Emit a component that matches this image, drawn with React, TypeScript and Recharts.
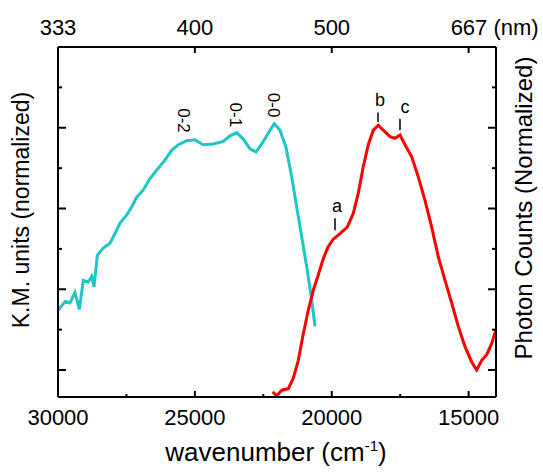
import React from "react";
import {
  LineChart,
  Line,
  XAxis,
  YAxis,
  ReferenceDot,
  ReferenceLine,
} from "recharts";

// diffuse reflectance (K.M.) spectrum, wavenumber in cm-1
const kmWavenumber = [
  29990, 29744, 29562, 29379, 29222, 29076, 28893, 28769, 28685, 28564, 28345, 28100,
  27918, 27735, 27490, 27308, 27125, 26884, 26639, 26336, 26091, 25847, 25605, 25299,
  24995, 24692, 24327, 23962, 23717, 23472, 23231, 22986, 22767, 22500, 22256, 22099,
  21891, 21672, 21463, 21280, 21098, 20915, 20732, 20612,
];
const kmValue = [
  0.74, 0.85, 0.83, 0.96, 0.75, 1.11, 1.09, 1.16, 1.03, 1.42, 1.51, 1.57,
  1.69, 1.82, 1.92, 2.02, 2.14, 2.23, 2.37, 2.5, 2.6, 2.72, 2.79, 2.84,
  2.85, 2.79, 2.8, 2.83, 2.9, 2.94, 2.86, 2.74, 2.7, 2.83, 2.97, 3.05,
  2.97, 2.76, 2.39, 2.02, 1.65, 1.28, 0.87, 0.54,
];

// emission spectrum
const emWavenumber = [
  22157, 22011, 21828, 21587, 21405, 21222, 21039, 20857, 20674, 20491, 20309, 20126,
  19943, 19699, 19432, 19213, 19030, 18847, 18665, 18482, 18299, 18117, 17872, 17689,
  17507, 17324, 17079, 16838, 16594, 16349, 16107, 15863, 15618, 15377, 15132, 14888,
  14705, 14522, 14339, 14157, 14000,
];
const emValue = [
  -0.27, -0.32, -0.25, -0.23, -0.1, 0.12, 0.45, 0.74, 0.99, 1.18, 1.38, 1.53,
  1.62, 1.69, 1.77, 1.94, 2.19, 2.52, 2.79, 2.97, 3.03, 2.97, 2.89, 2.87,
  2.91, 2.79, 2.64, 2.39, 2.1, 1.77, 1.4, 1.11, 0.83, 0.54, 0.29, 0.1,
  0.0, 0.12, 0.19, 0.33, 0.5,
];

const bottomTicks = [30000, 27500, 25000, 22500, 20000, 17500, 15000];
const topTicks = [30000, 25000, 20000, 15000];
const topTickLabels = ["333", "400", "500", "667 (nm)"];
const yTicks = [0, 0.5, 1, 1.5, 2, 2.5, 3, 3.5, 4];

// vibronic labels on the K.M. curve
const vibronicLabels = ["0-2", "0-1", "0-0"];
const vibronicX = [25400, 23500, 22110];
const vibronicY = [3.09, 3.16, 3.28];

// emission feature labels
const featureLabels = ["a", "b", "c"];
const featureX = [19881, 18310, 17507];
const featureTop = [1.88, 3.19, 3.11];
const featureBottom = [1.73, 3.07, 2.97];

const kmData = kmWavenumber.map((w, i) => ({ w, v: kmValue[i] }));
const emData = emWavenumber.map((w, i) => ({ w, v: emValue[i] }));

const FONT = "Liberation Sans, Arial, sans-serif";

const BottomTick = (props: any) => {
  const { x, y, payload } = props;
  const major = payload.value % 5000 === 0;
  return (
    <g>
      <line x1={x} x2={x} y1={y} y2={y - (major ? 6 : 3)} stroke="#000" strokeWidth={2} />
      {major && (
        <text x={x} y={y + 28} textAnchor="middle" fontSize={22} fontFamily={FONT} fill="#000">
          {payload.value}
        </text>
      )}
    </g>
  );
};

const TopTick = (props: any) => {
  const { x, y, index } = props;
  const label = topTickLabels[index];
  const last = index === topTicks.length - 1;
  return (
    <g>
      <line x1={x} x2={x} y1={y} y2={y + 6} stroke="#000" strokeWidth={2} />
      <text
        x={last ? x - 18 : x}
        y={y - 12}
        textAnchor={last ? "start" : "middle"}
        fontSize={22}
        fontFamily={FONT}
        fill="#000"
      >
        {label}
      </text>
    </g>
  );
};

const SideTick = (side: "left" | "right") => (props: any) => {
  const { x, y, payload } = props;
  const major = payload.value % 1 === 0;
  const len = major ? 8 : 4;
  const dir = side === "left" ? 1 : -1;
  return <line x1={x} x2={x + dir * len} y1={y} y2={y} stroke="#000" strokeWidth={2} />;
};

const rotatedText = (label: string) => (props: any) => {
  const { cx, cy } = props;
  return (
    <text
      x={cx}
      y={cy}
      transform={`rotate(90 ${cx} ${cy})`}
      textAnchor="middle"
      dominantBaseline="central"
      fontSize={17}
      fontFamily={FONT}
      fill="#000"
    >
      {label}
    </text>
  );
};

const plainText = (label: string) => (props: any) => {
  const { cx, cy } = props;
  return (
    <text x={cx} y={cy - 6} textAnchor="middle" fontSize={18} fontFamily={FONT} fill="#000">
      {label}
    </text>
  );
};

export default function App() {
  return (
    <div style={{ position: "absolute", left: 0, top: 0, background: "#fff" }}>
      <LineChart width={543} height={472} margin={{ top: 0, right: 0, bottom: 0, left: 0 }}>
        <XAxis
          xAxisId="bottom"
          type="number"
          dataKey="w"
          domain={[14000, 30000]}
          reversed
          ticks={bottomTicks}
          interval={0}
          height={75}
          tickSize={0}
          tickMargin={0}
          tickLine={false}
          axisLine={{ stroke: "#000", strokeWidth: 2 }}
          tick={BottomTick}
          allowDataOverflow
        />
        <XAxis
          xAxisId="top"
          orientation="top"
          type="number"
          dataKey="w"
          domain={[14000, 30000]}
          reversed
          ticks={topTicks}
          interval={0}
          height={47}
          tickSize={0}
          tickMargin={0}
          tickLine={false}
          axisLine={{ stroke: "#000", strokeWidth: 2 }}
          tick={TopTick}
          allowDataOverflow
        />
        <YAxis
          yAxisId="left"
          type="number"
          domain={[-0.334, 4]}
          ticks={yTicks}
          interval={0}
          width={58}
          tickSize={0}
          tickMargin={0}
          tickLine={false}
          axisLine={{ stroke: "#000", strokeWidth: 2 }}
          tick={SideTick("left")}
          allowDataOverflow
        />
        <YAxis
          yAxisId="right"
          orientation="right"
          type="number"
          domain={[-0.334, 4]}
          ticks={yTicks}
          interval={0}
          width={47}
          tickSize={0}
          tickMargin={0}
          tickLine={false}
          axisLine={{ stroke: "#000", strokeWidth: 2 }}
          tick={SideTick("right")}
          allowDataOverflow
        />
        <Line
          xAxisId="bottom"
          yAxisId="left"
          data={kmData}
          dataKey="v"
          stroke="#1ec6c6"
          strokeWidth={3}
          dot={false}
          isAnimationActive={false}
        />
        <Line
          xAxisId="bottom"
          yAxisId="right"
          data={emData}
          dataKey="v"
          stroke="#ff0000"
          strokeWidth={3}
          dot={false}
          isAnimationActive={false}
        />
        {vibronicLabels.map((lab, i) => (
          <ReferenceDot
            key={lab}
            xAxisId="bottom"
            yAxisId="left"
            x={vibronicX[i]}
            y={vibronicY[i]}
            shape={rotatedText(lab)}
          />
        ))}
        {featureLabels.map((lab, i) => (
          <ReferenceLine
            key={`t-${lab}`}
            xAxisId="bottom"
            yAxisId="right"
            segment={[
              { x: featureX[i], y: featureTop[i] },
              { x: featureX[i], y: featureBottom[i] },
            ]}
            stroke="#000"
            strokeWidth={1.5}
          />
        ))}
        {featureLabels.map((lab, i) => (
          <ReferenceDot
            key={lab}
            xAxisId="bottom"
            yAxisId="right"
            x={featureX[i] + (i === 2 ? -180 : -70)}
            y={featureTop[i]}
            shape={plainText(lab)}
          />
        ))}
        <text x={29} y={210} transform="rotate(-90 29 210)" textAnchor="middle" fontSize={23} fontFamily={FONT} fill="#000">
          K.M. units (normalized)
        </text>
        <text x={532} y={208} transform="rotate(-90 532 208)" textAnchor="middle" fontSize={24} fontFamily={FONT} fill="#000">
          Photon Counts (Normalized)
        </text>
        <text x={276} y={461} textAnchor="middle" fontSize={26} fontFamily={FONT} fill="#000">
          <tspan>wavenumber (cm</tspan>
          <tspan dy={-10} fontSize={15}>-1</tspan>
          <tspan dy={10}>)</tspan>
        </text>
      </LineChart>
    </div>
  );
}
